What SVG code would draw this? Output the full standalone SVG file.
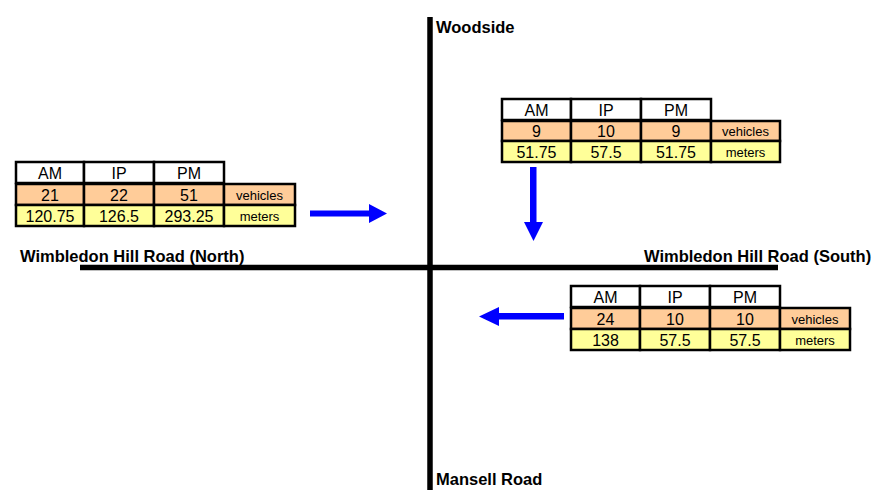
<svg xmlns="http://www.w3.org/2000/svg" width="894" height="493" viewBox="0 0 894 493">
<defs>
<style>
text{font-family:"Liberation Sans",Arial,sans-serif;fill:#000}
.lbl{font-size:16.5px;font-weight:bold}
.c{font-size:16px;text-anchor:middle}
.u{font-size:13px;text-anchor:middle}
.h{fill:#fff;stroke:#000;stroke-width:2.5}
.v{fill:#FFCC99;stroke:#000;stroke-width:2.5}
.m{fill:#FFFF99;stroke:#000;stroke-width:2.5}
.road{stroke:#000;stroke-width:5.5;fill:none}
.arr{fill:#0000FF}
</style>
</defs>
<rect width="894" height="493" fill="#fff"/>
<g id="roads">
<line class="road" x1="430" y1="17" x2="430" y2="490"/>
<line class="road" x1="80" y1="267.5" x2="778" y2="267.5"/>
</g>
<g id="labels">
<text class="lbl" x="436" y="33">Woodside</text>
<text class="lbl" x="436" y="485">Mansell Road</text>
<text class="lbl" x="20" y="262">Wimbledon Hill Road (North)</text>
<text class="lbl" x="644" y="262">Wimbledon Hill Road (South)</text>
</g>
<g id="connectors">
<path class="arr" d="M310,210.5 H369 V204 L387,213.5 L369,223 V216.5 H310 Z"/>
<path class="arr" d="M530,167 H536.5 V222 H543 L533.5,241 L524,222 H530 Z"/>
<path class="arr" d="M564,313 V319.5 H499 V326 L479,316.5 L499,307 V313 Z"/>
</g>
<g id="table-north">
<rect class="h" x="16" y="162" width="68" height="21"/>
<rect class="h" x="84" y="162" width="70" height="21"/>
<rect class="h" x="154" y="162" width="70" height="21"/>
<rect class="v" x="16" y="184" width="68" height="21"/>
<rect class="v" x="84" y="184" width="70" height="21"/>
<rect class="v" x="154" y="184" width="70" height="21"/>
<rect class="v" x="224" y="184" width="71" height="21"/>
<rect class="m" x="16" y="205" width="68" height="21"/>
<rect class="m" x="84" y="205" width="70" height="21"/>
<rect class="m" x="154" y="205" width="70" height="21"/>
<rect class="m" x="224" y="205" width="71" height="21"/>
<text class="c" x="50" y="179">AM</text>
<text class="c" x="119" y="179">IP</text>
<text class="c" x="189" y="179">PM</text>
<text class="c" x="50" y="201">21</text>
<text class="c" x="119" y="201">22</text>
<text class="c" x="189" y="201">51</text>
<text class="u" x="259.5" y="200">vehicles</text>
<text class="c" x="50" y="222">120.75</text>
<text class="c" x="119" y="222">126.5</text>
<text class="c" x="189" y="222">293.25</text>
<text class="u" x="259.5" y="221">meters</text>
</g>
<g id="table-woodside">
<rect class="h" x="502" y="99" width="69" height="21"/>
<rect class="h" x="571" y="99" width="70" height="21"/>
<rect class="h" x="641" y="99" width="70" height="21"/>
<rect class="v" x="502" y="121" width="69" height="20"/>
<rect class="v" x="571" y="121" width="70" height="20"/>
<rect class="v" x="641" y="121" width="70" height="20"/>
<rect class="v" x="711" y="121" width="69" height="20"/>
<rect class="m" x="502" y="141" width="69" height="21"/>
<rect class="m" x="571" y="141" width="70" height="21"/>
<rect class="m" x="641" y="141" width="70" height="21"/>
<rect class="m" x="711" y="141" width="69" height="21"/>
<text class="c" x="536.5" y="116">AM</text>
<text class="c" x="606" y="116">IP</text>
<text class="c" x="676" y="116">PM</text>
<text class="c" x="536.5" y="137">9</text>
<text class="c" x="606" y="137">10</text>
<text class="c" x="676" y="137">9</text>
<text class="u" x="745.5" y="136">vehicles</text>
<text class="c" x="536.5" y="158">51.75</text>
<text class="c" x="606" y="158">57.5</text>
<text class="c" x="676" y="158">51.75</text>
<text class="u" x="745.5" y="157">meters</text>
</g>
<g id="table-south">
<rect class="h" x="571" y="286" width="69" height="21"/>
<rect class="h" x="640" y="286" width="70" height="21"/>
<rect class="h" x="710" y="286" width="70" height="21"/>
<rect class="v" x="571" y="308" width="69" height="21"/>
<rect class="v" x="640" y="308" width="70" height="21"/>
<rect class="v" x="710" y="308" width="70" height="21"/>
<rect class="v" x="780" y="308" width="70" height="21"/>
<rect class="m" x="571" y="329" width="69" height="21"/>
<rect class="m" x="640" y="329" width="70" height="21"/>
<rect class="m" x="710" y="329" width="70" height="21"/>
<rect class="m" x="780" y="329" width="70" height="21"/>
<text class="c" x="605.5" y="303">AM</text>
<text class="c" x="675" y="303">IP</text>
<text class="c" x="745" y="303">PM</text>
<text class="c" x="605.5" y="325">24</text>
<text class="c" x="675" y="325">10</text>
<text class="c" x="745" y="325">10</text>
<text class="u" x="815" y="324">vehicles</text>
<text class="c" x="605.5" y="346">138</text>
<text class="c" x="675" y="346">57.5</text>
<text class="c" x="745" y="346">57.5</text>
<text class="u" x="815" y="345">meters</text>
</g>
</svg>
